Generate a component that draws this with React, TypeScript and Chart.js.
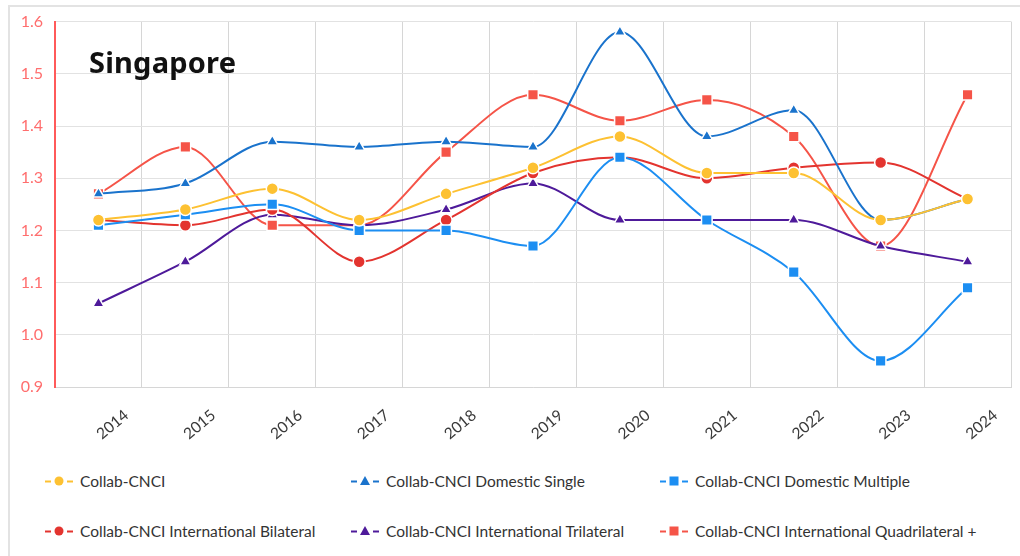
import React, { useEffect, useRef } from "react";
import { Chart, registerables } from "chart.js";

Chart.register(...registerables);

const YEARS = ["2014", "2015", "2016", "2017", "2018", "2019", "2020", "2021", "2022", "2023", "2024"];
const COLLAB = [1.22, 1.24, 1.28, 1.22, 1.27, 1.32, 1.38, 1.31, 1.31, 1.22, 1.26];
const DOM_SINGLE = [1.27, 1.29, 1.37, 1.36, 1.37, 1.36, 1.58, 1.38, 1.43, 1.22, 1.26];
const DOM_MULTI = [1.21, 1.23, 1.25, 1.2, 1.2, 1.17, 1.34, 1.22, 1.12, 0.95, 1.09];
const INT_BI = [1.22, 1.21, 1.24, 1.14, 1.22, 1.31, 1.34, 1.3, 1.32, 1.33, 1.26];
const INT_TRI = [1.06, 1.14, 1.23, 1.21, 1.24, 1.29, 1.22, 1.22, 1.22, 1.17, 1.14];
const INT_QUAD = [1.27, 1.36, 1.21, 1.21, 1.35, 1.46, 1.41, 1.45, 1.38, 1.17, 1.46];

const SERIES_NAMES = [
  "Collab-CNCI",
  "Collab-CNCI Domestic Single",
  "Collab-CNCI Domestic Multiple",
  "Collab-CNCI International Bilateral",
  "Collab-CNCI International Trilateral",
  "Collab-CNCI International Quadrilateral +",
];
const SERIES_DATA = [COLLAB, DOM_SINGLE, DOM_MULTI, INT_BI, INT_TRI, INT_QUAD];
const SERIES_COLORS = ["#FDC132", "#1A73CC", "#1C8EF2", "#E3342F", "#4E1A9A", "#F55448"];
const SERIES_SHAPES = ["circle", "triangle", "rect", "circle", "triangle", "rect"];

const Y_MIN = 0.9;
const Y_MAX = 1.6;
const Y_STEP = 0.1;
const TITLE = "Singapore";

const FONT = "Lato, 'Noto Sans', sans-serif";

function radiusFor(shape: string) {
  if (shape === "rect") return 7.5;
  if (shape === "triangle") return 6.5;
  return 6;
}

function LegendMarker({ color, shape }: { color: string; shape: string }) {
  let m: React.ReactNode;
  if (shape === "circle") m = <circle cx={14} cy={7} r={4.5} fill={color} />;
  else if (shape === "triangle") m = <polygon points="14,2 19,11 9,11" fill={color} />;
  else m = <rect x={9.5} y={2.5} width={9} height={9} fill={color} />;
  return (
    <svg width={28} height={14} style={{ display: "block" }}>
      <line x1={0} y1={7.5} x2={6} y2={7.5} stroke={color} strokeWidth={2} />
      <line x1={22} y1={7.5} x2={28} y2={7.5} stroke={color} strokeWidth={2} />
      {m}
    </svg>
  );
}

export default function App() {
  const canvasRef = useRef<HTMLCanvasElement | null>(null);

  useEffect(() => {
    if (!canvasRef.current) return;
    const H = 450;
    const chart = new Chart(canvasRef.current, {
      type: "line",
      data: {
        labels: YEARS,
        datasets: SERIES_NAMES.map((name, i) => ({
          label: name,
          data: SERIES_DATA[i],
          borderColor: SERIES_COLORS[i],
          backgroundColor: SERIES_COLORS[i],
          borderWidth: 2,
          cubicInterpolationMode: "monotone" as const,
          pointStyle: SERIES_SHAPES[i] as any,
          pointRadius: radiusFor(SERIES_SHAPES[i]),
          pointHoverRadius: radiusFor(SERIES_SHAPES[i]),
          pointBorderColor: "#ffffff",
          pointBorderWidth: 1.5,
          fill: false,
        })),
      },
      options: {
        animation: false,
        responsive: false,
        maintainAspectRatio: false,
        layout: { padding: { top: 18, right: 1, left: 0, bottom: 0 } },
        plugins: {
          legend: { display: false },
          tooltip: { enabled: false },
        },
        scales: {
          x: {
            type: "category",
            offset: true,
            grid: { offset: true, color: "#d6d6d6", drawTicks: false },
            border: { color: "#d6d6d6" },
            ticks: {
              autoSkip: false,
              minRotation: 40,
              maxRotation: 40,
              padding: 19,
              labelOffset: 28,
              color: "#3a3a3a",
              font: { family: FONT, size: 15.5 },
            },
            afterFit: (s: any) => {
              s.height = H - 387;
            },
          },
          y: {
            min: Y_MIN,
            max: Y_MAX,
            grid: { color: "#e2e2e2", drawTicks: false },
            border: { color: "#FF5A5A", width: 2 },
            ticks: {
              stepSize: Y_STEP,
              padding: 12,
              color: "#FF6E6E",
              font: { family: FONT, size: 16 },
              callback: (v: any) => Number(v).toFixed(1),
            },
            afterFit: (s: any) => {
              s.width = 55;
            },
          },
        },
      },
    });
    return () => chart.destroy();
  }, []);

  const colX = [45, 351, 660];
  const rowY = [481, 531];

  return (
    <div>
      <div
        style={{
          position: "absolute",
          left: 8,
          top: 5,
          width: 1100,
          height: 600,
          borderTop: "2px solid #e3e3e3",
          borderLeft: "2px solid #e3e3e3",
          boxSizing: "border-box",
        }}
      />
      <canvas
        ref={canvasRef}
        width={1020}
        height={450}
        style={{ position: "absolute", left: 0, top: 0, width: 1020, height: 450 }}
      />
      <div
        style={{
          position: "absolute",
          left: 89,
          top: 46,
          fontFamily: "'Noto Sans', Lato, sans-serif",
          fontWeight: 700,
          fontSize: 29,
          letterSpacing: 0.2,
          lineHeight: "32px",
          color: "#111",
          whiteSpace: "nowrap",
        }}
      >
        {TITLE}
      </div>
      {SERIES_NAMES.map((name, i) => (
        <div
          key={name}
          style={{
            position: "absolute",
            left: colX[i % 3],
            top: rowY[Math.floor(i / 3)] - 10,
            height: 20,
            display: "flex",
            alignItems: "center",
            fontFamily: FONT,
            fontSize: 15.5,
            color: "#333",
            whiteSpace: "nowrap",
          }}
        >
          <LegendMarker color={SERIES_COLORS[i]} shape={SERIES_SHAPES[i]} />
          <span style={{ marginLeft: 7 }}>{name}</span>
        </div>
      ))}
    </div>
  );
}
